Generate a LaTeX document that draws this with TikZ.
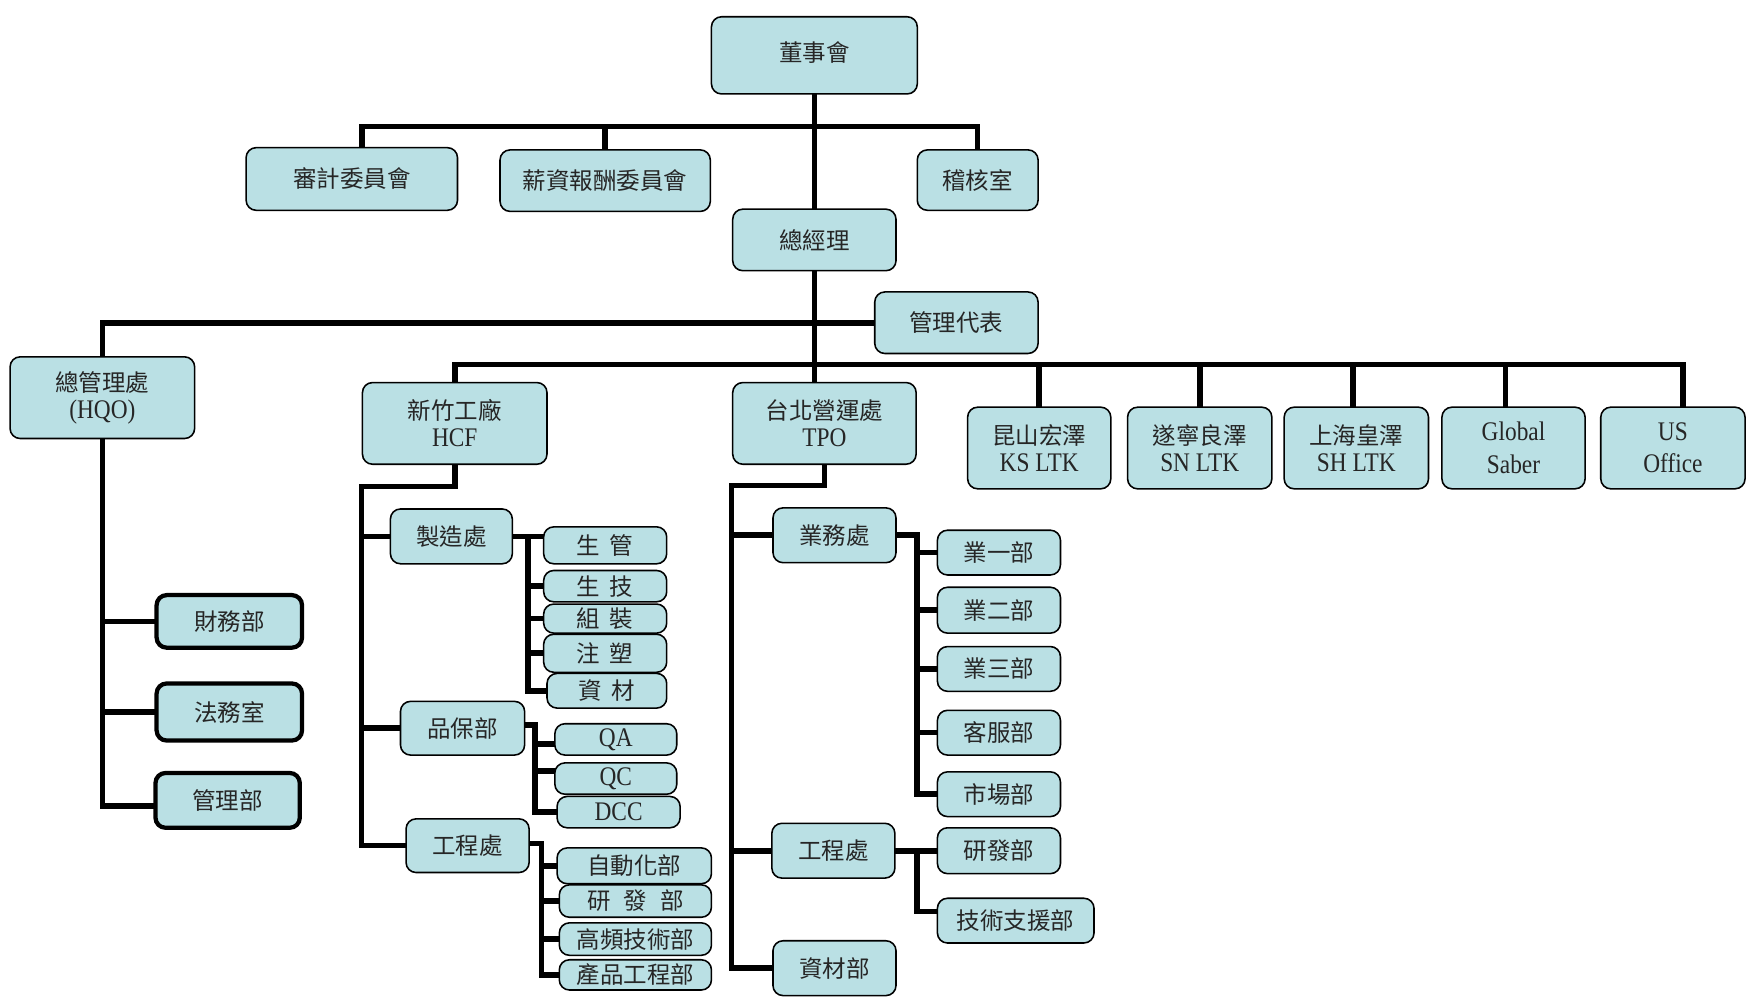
\documentclass[tikz,border=0pt]{standalone}
\usepackage{fontspec}
\setmainfont{Liberation Serif}[FakeStretch=0.87]
\newfontfamily\cjk{Noto Sans CJK TC}
\usetikzlibrary{calc,backgrounds}
\definecolor{boxfill}{HTML}{BAE0E4}
\definecolor{txt}{HTML}{262626}
\newcommand\latn[1]{{\rmfamily\fontsize{12pt}{12pt}\selectfont #1}}
\newcommand\bx[7][]{\node[orgbox,#1,minimum width={(#5-#3)*0.5pt},minimum height={(#6-#4)*0.5pt}] (#2) at ({(#3+#5)/2},{(#4+#6)/2}) {#7};}
\tikzset{
  orgbox/.style={draw=black, line width=0.7pt, fill=boxfill, rounded corners=4.5pt,
    inner sep=0pt, outer sep=0pt, text=txt, align=center,
    font=\cjk\fontsize{10.5pt}{12pt}\selectfont},
  thickbox/.style={line width=1.9pt},
  latin/.style={font=\rmfamily\fontsize{12pt}{14.5pt}\selectfont},
  conn/.style={line width=2.5pt, draw=black}
}
\begin{document}
\begin{tikzpicture}[x=0.5pt,y=-0.5pt]
\useasboundingbox (0,0) rectangle (1568,897);
% top
\bx{bod}{636}{15}{820}{84}{\raisebox{3pt}{董事會}}
\bx{audit}{220}{132}{409}{188}{審計委員會}
\bx{pay}{447}{134}{635}{189}{薪資報酬委員會}
\bx{check}{820}{134}{928}{188}{稽核室}
\bx{gm}{655}{187}{801}{242}{總經理}
\bx{mr}{782}{261}{928}{316}{管理代表}
\bx{hqo}{9}{319}{174}{392}{總管理處\\\latn{(HQO)}}
\bx{hcf}{324}{342}{489}{415}{新竹工廠\\\latn{HCF}}
\bx{tpo}{655}{342}{819}{415}{台北營運處\\\latn{TPO}}
\bx{ks}{865}{364}{993}{437}{昆山宏澤\\\latn{KS LTK}}
\bx{sn}{1008}{364}{1137}{437}{遂寧良澤\\\latn{SN LTK}}
\bx{sh}{1148}{364}{1277}{437}{上海皇澤\\\latn{SH LTK}}
\bx[latin]{gs}{1289}{364}{1417}{437}{Global\\Saber}
\bx[latin]{us}{1431}{364}{1560}{437}{US\\Office}
% HQO
\bx[thickbox]{fin}{140}{532}{270}{579}{財務部}
\bx[thickbox]{law}{140}{611}{270}{662}{法務室}
\bx[thickbox]{adm}{139}{691}{268}{740}{管理部}
% HCF
\bx{mfg}{349}{455}{458}{504}{製造處}
\bx{qa}{358}{627}{469}{675}{品保部}
\bx{eng}{363}{732}{473}{780}{工程處}
\bx{sg}{486}{471}{596}{504}{生\hspace{0.4em}管}
\bx{st}{486}{510}{596}{538}{生\hspace{0.4em}技}
\bx{zz}{486}{540}{596}{566}{組\hspace{0.4em}裝}
\bx{zs}{486}{567}{596}{601}{注\hspace{0.4em}塑}
\bx{zc}{489}{602}{596}{633}{資\hspace{0.4em}材}
\bx[latin]{QA}{496}{647}{605}{675}{QA}
\bx[latin]{QC}{496}{682}{605}{710}{QC}
\bx[latin]{DCC}{498}{712}{608}{740}{DCC}
\bx{auto}{498}{758}{636}{790}{自動化部}
\bx{rd}{500}{791}{636}{820}{研\hspace{0.55em}發\hspace{0.55em}部}
\bx{hf}{500}{825}{636}{854}{高頻技術部}
\bx{pe}{500}{858}{636}{885}{產品工程部}
% TPO
\bx{sales}{691}{454}{801}{503}{業務處}
\bx{teng}{690}{736}{800}{785}{工程處}
\bx{mat}{691}{841}{801}{890}{資材部}
\bx{s1}{838}{474}{948}{514}{業一部}
\bx{s2}{838}{525}{948}{566}{業二部}
\bx{s3}{838}{578}{948}{618}{業三部}
\bx{cs}{838}{635}{948}{675}{客服部}
\bx{mk}{838}{690}{948}{730}{市場部}
\bx{trd}{838}{740}{948}{781}{研發部}
\bx{ts}{838}{803}{978}{843}{技術支援部}

\coordinate (j1) at (727,113);
\coordinate (j3) at (727,326);
\coordinate (c1) at (323,435);
\coordinate (c2) at (654,434);
\coordinate (m1) at (472,0);
\coordinate (m2) at (478,0);
\coordinate (m3) at (484,0);
\coordinate (m4) at (820,0);

\begin{pgfonlayer}{background}
\fill[white] (0,0) rectangle (1568,897);
% top tree
\draw[conn] (bod.south) -- (gm.north);
\draw[conn] ($(audit.north)+(9,0)$) |- (j1) -| (check.north);
\draw[conn] (pay.north) -- (pay.north |- j1);
\draw[conn] (hqo.north) |- (mr.west);
\draw[conn] (gm.south) -- (gm.south |- tpo.north);
\draw[conn] (hcf.north) |- (j3) -| ($(us.north)+(9,0)$);
\draw[conn] (ks.north) -- (ks.north |- j3);
\draw[conn] (sn.north) -- (sn.north |- j3);
\draw[conn] ($(sh.north)+(-3,0)$) -- ($(sh.north |- j3)+(-3,0)$);
\draw[conn] ($(gs.north)+(-7,0)$) -- ($(gs.north |- j3)+(-7,0)$);
% HQO
\draw[conn] (hqo.south) |- ($(adm.west)+(0,5)$);
\draw[conn] (hqo.south |- fin.west) -- (fin.west);
\draw[conn] (hqo.south |- law.west) -- (law.west);
% HCF
\draw[conn] (hcf.south) |- (c1) |- (eng.west);
\draw[conn] (c1 |- mfg.west) -- (mfg.west);
\draw[conn] (c1 |- qa.west) -- (qa.west);
\draw[conn] (mfg.east) -- (mfg.east -| sg.west);
\draw[conn] (mfg.east -| m1) |- (zc.west);
\foreach \n in {st,zz,zs} \draw[conn] (m1 |- \n.west) -- (\n.west);
\draw[conn] ($(qa.east)+(0,-3)$) -| (m2 |- DCC.west) -- (DCC.west);
\draw[conn] ($(m2 |- QA.west)+(0,4)$) -- ($(QA.west)+(0,4)$);
\draw[conn] ($(m2 |- QC.west)+(0,-7)$) -- ($(QC.west)+(0,-7)$);
\draw[conn] ($(eng.east)+(0,-2)$) -| (m3 |- pe.west) -- (pe.west);
\foreach \n in {auto,rd,hf} \draw[conn] (m3 |- \n.west) -- (\n.west);
% TPO
\draw[conn] (tpo.south) |- (c2) |- (mat.west);
\draw[conn] (c2 |- sales.west) -- (sales.west);
\draw[conn] (c2 |- teng.west) -- (teng.west);
\draw[conn] (sales.east) -| (m4 |- mk.west) -- (mk.west);
\foreach \n in {s1,s2,s3,cs} \draw[conn] (m4 |- \n.west) -- (\n.west);
\draw[conn] (teng.east) -- (trd.west);
\draw[conn] (teng.east -| m4) |- ($(ts.west)+(0,-8)$);
\end{pgfonlayer}
\end{tikzpicture}
\end{document}
